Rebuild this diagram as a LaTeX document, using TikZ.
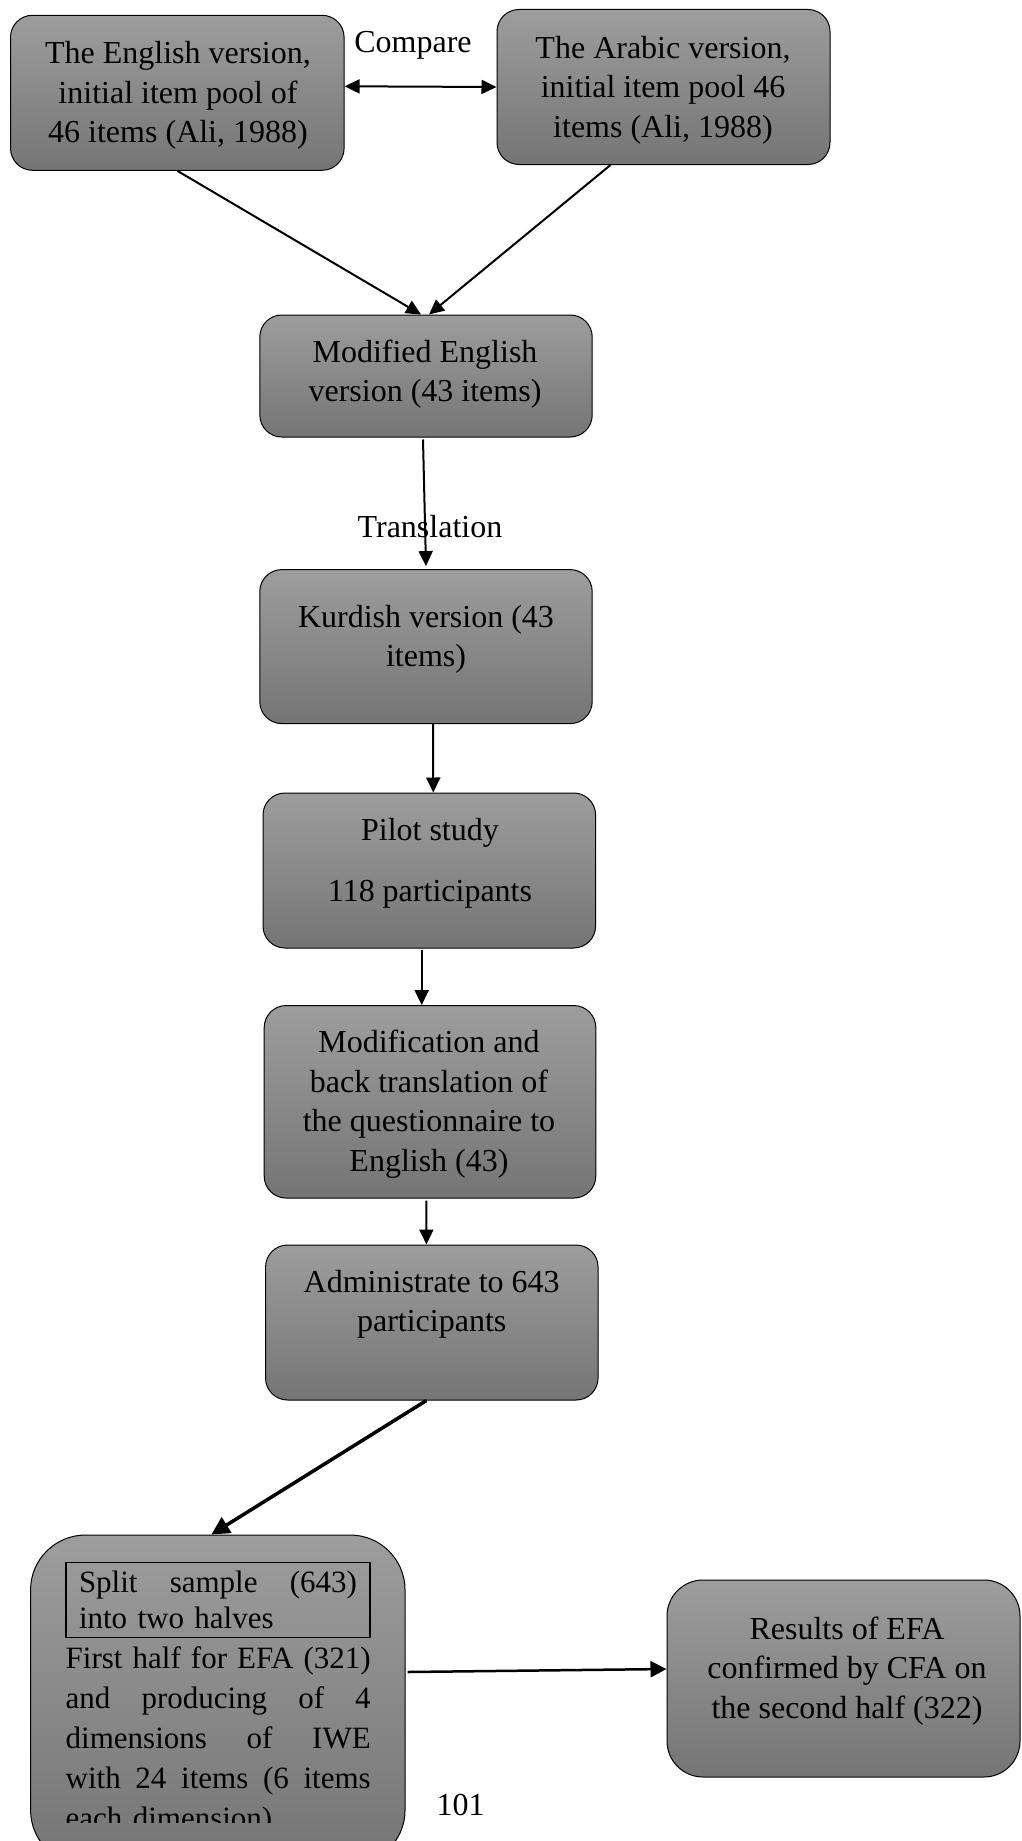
\documentclass[tikz,border=0pt]{standalone}
\usepackage{fontspec}
\setmainfont{Liberation Serif}
\usetikzlibrary{arrows.meta,calc}
\definecolor{gtop}{RGB}{157,157,157}
\definecolor{gbot}{RGB}{117,117,117}
\newcommand{\jline}[2]{\leavevmode\hbox to #1{#2}}
\begin{document}
\begin{tikzpicture}[x=1pt,y=1pt,
  box/.style={draw=black, line width=1pt, rounded corners=22pt, top color=gtop, bottom color=gbot, inner sep=0pt},
  txt/.style={font=\fontsize{32}{39.5}\selectfont, align=center, inner sep=0pt},
  arr/.style={line width=2pt, -{Triangle[length=15pt,width=14pt]}},
]
\clip (0,0) rectangle (1022,-1841);
\fill[white] (0,0) rectangle (1022,-1841);
% boxes
\node[box, minimum width=333.6pt, minimum height=155pt] (b1) at (177.3,-92.8) {};
\node[box, minimum width=333pt, minimum height=155pt] (b2) at (663.5,-87) {};
\node[box, minimum width=332.4pt, minimum height=122pt] (b3) at (426,-376) {};
\node[box, minimum width=332.4pt, minimum height=154pt] (b4) at (426,-646.6) {};
\node[box, minimum width=332.6pt, minimum height=155pt] (b5) at (429.3,-870.5) {};
\node[box, minimum width=331.6pt, minimum height=192.5pt] (b6) at (430,-1101.8) {};
\node[box, minimum width=332.5pt, minimum height=155pt] (b7) at (431.8,-1322.5) {};
\node[box, rounded corners=55pt, minimum width=374.5pt, minimum height=330pt] (b8) at (217.8,-1700) {};
\node[box, rounded corners=36pt, minimum width=353pt, minimum height=197pt] (b9) at (843.5,-1678.5) {};
% texts
\node[txt] (t1) at (178,-95.5) {The English version,\\initial item pool of\\46 items (Ali, 1988)};
\node[txt] (t2) at (663,-90) {The Arabic version,\\initial item pool 46\\items (Ali, 1988)};
\node[txt] (t3) at (425,-374) {Modified English\\version (43 items)};
\node[txt] (t4) at (426,-639.5) {Kurdish version (43\\items)};
\node[txt] (t5) at (430,-863.5) {Pilot study\\[22pt]118 participants};
\node[txt] (t6) at (429,-1104) {Modification and\\back translation of\\the questionnaire to\\English (43)};
\node[txt] (t7) at (431.7,-1304.5) {Administrate to 643\\participants};
\node[txt] (t9) at (847,-1671) {Results of EFA\\confirmed by CFA on\\the second half (322)};
\node[txt] (cmp) at (413,-45.5) {Compare};
\node[txt] (pg) at (460.5,-1805) {101};
% split box
\node[draw=black, line width=1.5pt, inner xsep=13pt, inner ysep=3pt, minimum height=75pt,
  font=\fontsize{31}{36}\selectfont, align=left, text width=278pt] (split) at (218,-1600)
  {\jline{278pt}{Split\hfill sample\hfill (643)}\\into two halves};
\begin{scope}
\clip (0,-1535) rectangle (1022,-1822);
\node[anchor=north west, inner sep=0pt, font=\fontsize{31}{40}\selectfont, align=left, text width=305pt] (efa) at (65.5,-1646)
  {\jline{305pt}{First\hfill half\hfill for\hfill EFA\hfill (321)}\\
   \jline{305pt}{and\hfill producing\hfill of\hfill 4}\\
   \jline{305pt}{dimensions\hfill of\hfill IWE}\\
   \jline{305pt}{with\hfill 24\hfill items\hfill (6\hfill items}\\
   each dimension)};
\end{scope}
% connectors
\draw[line width=2pt, {Triangle[length=15pt,width=14pt]}-{Triangle[length=15pt,width=14pt]}] ($(b1.east)+(0,6.5)$) -- (b2.west);
\draw[arr] (b1.south) -- ($(b3.north)+(-5,0)$);
\draw[arr] ($(b2.south)+(-53,0)$) -- ($(b3.north)+(3,0)$);
\draw[arr] ($(b3.south)+(-3,-2)$) -- ($(b4.north)+(0,3)$);
\node[txt] (tr) at (430,-527) {Translation};
\draw[arr] ($(b4.south)+(7,0)$) -- ($(b5.north)+(4,0)$);
\draw[arr] ($(b5.south)+(-7.6,-1)$) -- ($(b6.north)+(-8.3,0)$);
\draw[arr] ($(b6.south)+(-3.6,-2)$) -- ($(b7.north)+(-5.4,0)$);
\draw[line width=3.5pt, -{Triangle[length=18pt,width=18pt]}] ($(b7.south)+(-5.4,0)$) -- ($(b8.north)+(-6.4,0)$);
\draw[line width=2.5pt, -{Triangle[length=16pt,width=16pt]}] ($(b8.east)+(2,28)$) -- ($(b9.west)+(0,9.5)$);
\end{tikzpicture}
\end{document}
